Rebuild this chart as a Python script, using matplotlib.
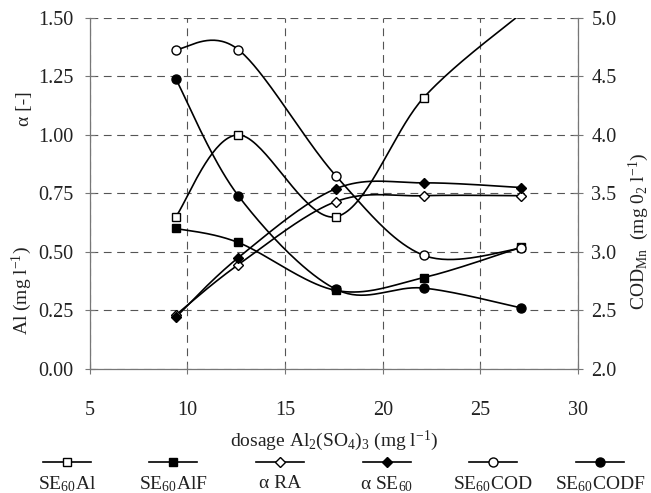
import matplotlib
matplotlib.use("Agg")
import matplotlib.pyplot as plt
from matplotlib.lines import Line2D
import numpy as np

plt.rcParams["font.family"] = ["Liberation Serif", "DejaVu Serif"]
plt.rcParams["mathtext.fontset"] = "custom"
plt.rcParams["mathtext.rm"] = "Liberation Serif"
plt.rcParams["mathtext.it"] = "Liberation Serif"

DOSAGE = [9.4, 12.6, 17.6, 22.1, 27.1]

# left axis (Al in mg/l and alpha)
SE60_AL = [0.65, 1.00, 0.65, 1.16, 1.52]
SE60_ALF = [0.60, 0.54, 0.335, 0.39, 0.52]
ALPHA_RA = [0.23, 0.445, 0.715, 0.74, 0.74]
ALPHA_SE60 = [0.22, 0.475, 0.77, 0.795, 0.775]

# right axis (COD_Mn)
SE60_COD = [4.73, 4.73, 3.65, 2.97, 3.03]
SE60_CODF = [4.48, 3.48, 2.68, 2.69, 2.52]

LEFT_TICKS = [0.00, 0.25, 0.50, 0.75, 1.00, 1.25, 1.50]
RIGHT_TICKS = [2.0, 2.5, 3.0, 3.5, 4.0, 4.5, 5.0]
X_TICKS = [5, 10, 15, 20, 25, 30]

LABELS = ["SE$_{60}$Al", "SE$_{60}$AlF", "\u03b1 RA", "\u03b1 SE$_{60}$",
          "SE$_{60}$COD", "SE$_{60}$CODF"]


def smooth(xs, ys, sx, sy, n=40):
    """Excel-like smoothed line (cubic Bezier through the points)."""
    pts = np.column_stack([np.asarray(xs) / sx, np.asarray(ys) / sy])
    segs = []
    for i in range(len(pts) - 1):
        p0 = pts[i - 1] if i > 0 else pts[i]
        p1, p2 = pts[i], pts[i + 1]
        p3 = pts[i + 2] if i + 2 < len(pts) else pts[i + 1]
        c1 = p1 + (p2 - p0) / 6
        c2 = p2 - (p3 - p1) / 6
        t = np.linspace(0, 1, n)[:, None]
        seg = ((1 - t) ** 3 * p1 + 3 * (1 - t) ** 2 * t * c1
               + 3 * (1 - t) * t ** 2 * c2 + t ** 3 * p2)
        segs.append(seg)
    curve = np.vstack(segs)
    return curve[:, 0] * sx, curve[:, 1] * sy


fig = plt.figure(figsize=(6.51, 4.93), dpi=100)
ax = fig.add_axes([0.138, 0.252, 0.750, 0.7115])
ax2 = ax.twinx()

SX = 25 / 488
SY_L = 1.5 / 351
SY_R = 3.0 / 351

styles = [
    (ax, SE60_AL, SY_L, "s", "white"),
    (ax, SE60_ALF, SY_L, "s", "black"),
    (ax, ALPHA_RA, SY_L, "D", "white"),
    (ax, ALPHA_SE60, SY_L, "D", "black"),
    (ax2, SE60_COD, SY_R, "o", "white"),
    (ax2, SE60_CODF, SY_R, "o", "black"),
]
msize = {"s": 6, "D": 5.5, "o": 6.5}

for a, ys, sy, mk, fc in styles:
    cx, cy = smooth(DOSAGE, ys, SX, sy)
    a.plot(cx, cy, color="black", lw=1.2, zorder=3)
    a.plot(DOSAGE, ys, ls="none", marker=mk, ms=msize[mk], mfc=fc,
           mec="black", mew=1.0, zorder=4)

ax.set_xlim(5, 30)
ax.set_ylim(0, 1.5)
ax2.set_ylim(2.0, 5.0)
ax.set_xticks(X_TICKS)
ax.set_yticks(LEFT_TICKS)
ax.set_yticklabels([f"{v:.2f}" for v in LEFT_TICKS])
ax2.set_yticks(RIGHT_TICKS)
ax2.set_yticklabels([f"{v:.1f}" for v in RIGHT_TICKS])

ax.grid(True, color="#555555", ls=(0, (7, 5)), lw=0.8)
ax.set_axisbelow(True)

for a in (ax, ax2):
    for s in a.spines.values():
        s.set_color("#777777")
        s.set_linewidth(0.9)
    a.spines["top"].set_visible(False)
ax.spines["right"].set_visible(False)
ax2.spines["left"].set_visible(False)
ax2.spines["bottom"].set_visible(False)

ax.tick_params(axis="both", direction="inout", length=7, width=0.8,
               colors="#777777", labelcolor="#222222", labelsize=14.5, pad=8)
ax2.tick_params(axis="y", direction="inout", length=7, width=0.8,
                colors="#777777", labelcolor="#222222", labelsize=14.5, pad=6)
ax.tick_params(axis="x", pad=20)

ax.set_xlabel("dosage Al$_2$(SO$_4$)$_3$ (mg l$^{-1}$)", fontsize=14,
              labelpad=6, color="#222222")
fig.text(0.034, 0.41, "Al (mg l$^{-1}$)", rotation=90, ha="center",
         va="center", fontsize=14, color="#222222")
fig.text(0.038, 0.78, "\u03b1 [-]", rotation=90, ha="center", va="center",
         fontsize=14, color="#222222")
fig.text(0.982, 0.53, "COD$_{Mn}$  (mg 0$_2$ l$^{-1}$)", rotation=90,
         ha="center", va="center", fontsize=14, color="#222222")

# legend row under the chart
leg_cx = [67, 173, 280, 387, 493, 600]
W, H = 651, 493
for cxp, (_, _, _, mk, fc), lab in zip(leg_cx, styles, LABELS):
    yl = 1 - 462 / H
    fig.add_artist(Line2D([(cxp - 24) / W, (cxp + 24) / W], [yl, yl],
                          color="black", lw=1.2, transform=fig.transFigure))
    fig.add_artist(Line2D([cxp / W], [yl], ls="none", marker=mk,
                          ms=msize[mk], mfc=fc, mec="black", mew=1.0,
                          transform=fig.transFigure))
    fig.text(cxp / W, 1 - 484 / H, lab, ha="center", va="center",
             fontsize=14, color="#222222")

fig.savefig("out.png", dpi=100)
